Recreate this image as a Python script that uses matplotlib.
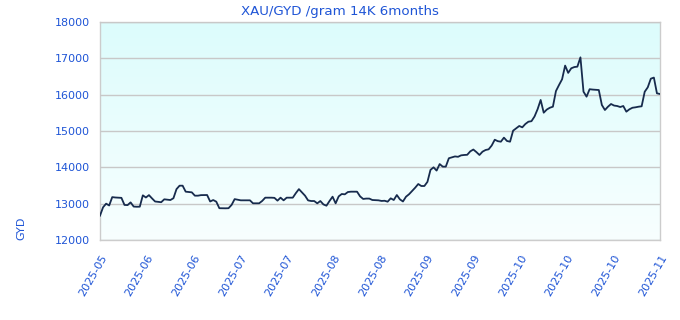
import numpy as np
import matplotlib
matplotlib.use("Agg")
import matplotlib.pyplot as plt
from matplotlib.colors import LinearSegmentedColormap

title = "XAU/GYD /gram 14K 6months"
y_label = "GYD"
tick_labels = ["2025-05", "2025-06", "2025-06", "2025-07", "2025-07", "2025-08",
               "2025-08", "2025-09", "2025-09", "2025-10", "2025-10", "2025-10", "2025-11"]
y_ticks = [12000, 13000, 14000, 15000, 16000, 17000, 18000]

# daily price readings (GYD per gram, 14K)
prices_may_jun = [12670, 12900, 13000, 12950, 13180, 13170, 13165, 13160, 12965, 12960,
                  13035, 12920, 12915, 12917, 13230, 13170, 13235, 13145, 13060, 13050,
                  13040, 13120, 13110, 13100, 13150, 13400, 13495, 13495, 13330, 13320,
                  13312, 13220, 13220]
prices_jun_jul = [13235, 13238, 13238, 13060, 13100, 13055, 12875, 12872, 12872, 12875,
                  12965, 13125, 13110, 13092, 13092, 13090, 13092, 13010, 13009, 13010,
                  13075, 13165, 13165, 13165, 13160, 13083, 13165, 13092, 13165, 13165,
                  13165]
prices_jul_aug = [13290, 13400, 13310, 13220, 13090, 13073, 13073, 13009, 13073, 12980,
                  12944, 13073, 13192, 13009, 13200, 13266, 13257, 13320, 13330, 13330,
                  13330, 13200, 13130, 13140, 13140, 13101, 13095, 13092, 13075, 13080,
                  13055]
prices_aug_sep = [13147, 13101, 13238, 13119, 13060, 13192, 13260, 13350, 13440, 13541,
                  13486, 13486, 13600, 13930, 14000, 13910, 14090, 14019, 14019, 14250,
                  14276, 14300, 14290, 14330, 14340, 14345, 14440, 14490, 14420, 14340,
                  14431, 14477, 14496]
prices_sep_oct = [14600, 14760, 14720, 14706, 14817, 14725, 14706, 15009, 15074, 15138,
                  15101, 15193, 15256, 15270, 15400, 15600, 15854, 15504, 15590, 15640,
                  15669, 16100, 16266, 16423, 16800, 16600, 16726, 16760, 16771, 17027,
                  16082, 15945, 16150, 16140, 16135, 16128, 15716, 15578, 15669, 15743,
                  15700, 15688, 15660, 15688, 15532, 15597, 15640, 15652, 15669, 15680,
                  16080, 16202, 16440, 16470, 16037, 16018]

prices = prices_may_jun + prices_jun_jul + prices_jul_aug + prices_aug_sep + prices_sep_oct
x = np.arange(len(prices))

text_color = "#1f55d6"
fig = plt.figure(figsize=(6.8, 3.2), dpi=100)
ax = fig.add_axes([100/680, 80/320, 560/680, 218/320])

cmap = LinearSegmentedColormap.from_list("bg", ["#f8ffff", "#dcfcfc"])
grad = np.linspace(0, 1, 256).reshape(-1, 1)
ax.imshow(grad, cmap=cmap, aspect="auto", origin="lower",
          extent=[0, len(prices) - 1, 12000, 18000], zorder=0)

ax.plot(x, prices, color="#172b4d", linewidth=1.3, zorder=3)
ax.set_xlim(0, len(prices) - 1)
ax.set_ylim(12000, 18000)
ax.set_yticks(y_ticks)
ax.set_yticklabels([str(v) for v in y_ticks])
ax.yaxis.grid(True, color="#c8c8c8", linewidth=1.0, zorder=1)
ax.set_axisbelow(False)

ax.set_xticks(np.linspace(0, len(prices) - 1, len(tick_labels)))
ax.set_xticklabels(tick_labels, rotation=60, ha="right", va="top", rotation_mode="anchor")
ax.tick_params(axis="both", length=0, labelsize=8, labelcolor=text_color)
ax.tick_params(axis="x", pad=9)
ax.tick_params(axis="y", pad=7)

for s in ax.spines.values():
    s.set_color("#cccccc")
    s.set_linewidth(1.0)

fig.text(0.5, 1 - 11/320, title, color=text_color, fontsize=9.6, ha="center", va="center")
ax.set_ylabel(y_label, color=text_color, fontsize=8)
ax.yaxis.set_label_coords(-0.132, 0.055)

fig.savefig("out.png", dpi=100)
